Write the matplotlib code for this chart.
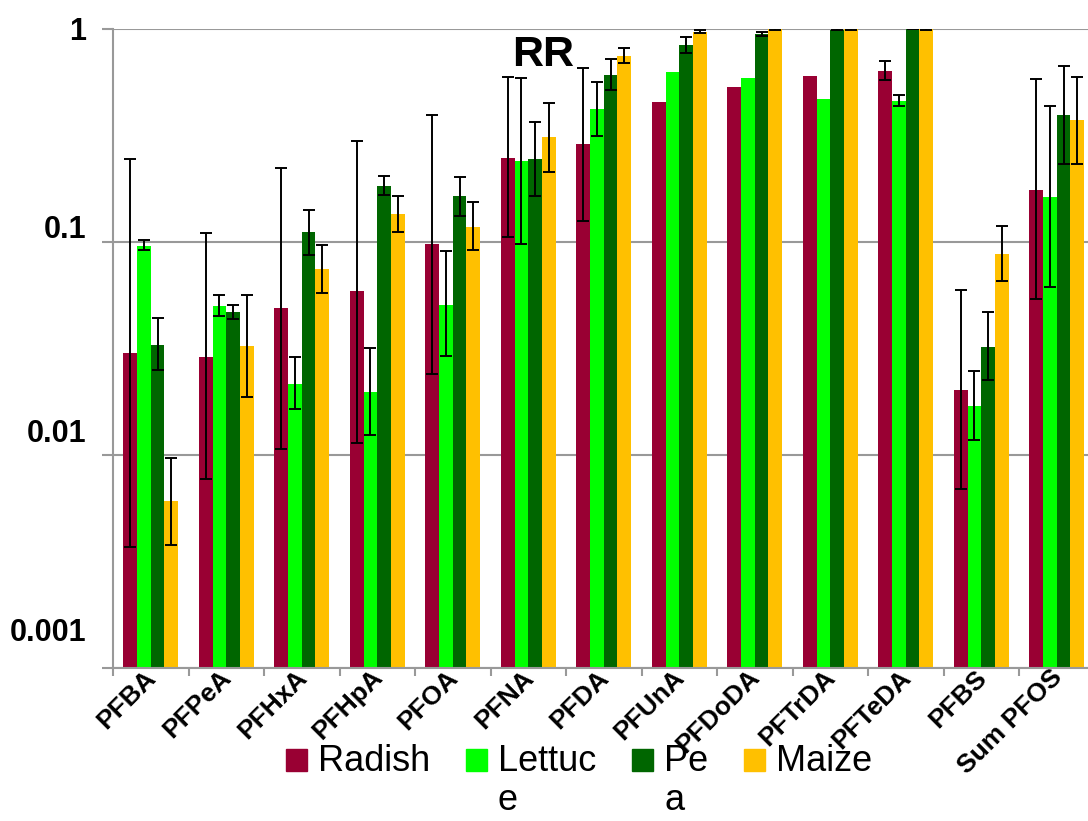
import numpy as np
import matplotlib
matplotlib.use("Agg")
import matplotlib.pyplot as plt
import matplotlib.patches as mpatches
from matplotlib.legend_handler import HandlerPatch
from matplotlib.transforms import ScaledTranslation

plt.rcParams['font.family'] = ['Liberation Sans', 'DejaVu Sans']

nan = np.nan
compounds = ['PFBA', 'PFPeA', 'PFHxA', 'PFHpA', 'PFOA', 'PFNA', 'PFDA', 'PFUnA',
             'PFDoDA', 'PFTrDA', 'PFTeDA', 'PFBS', 'Sum PFOS']

# RR values, with low / high ends of the error bars
radish = [0.030, 0.029, 0.049, 0.059, 0.0975, 0.249, 0.287, 0.453, 0.533, 0.600, 0.634, 0.0203, 0.176]
radish_lo = [0.0037, 0.0077, 0.0107, 0.0114, 0.0239, 0.105, 0.125, nan, nan, nan, 0.576, 0.00695, 0.0542]
radish_hi = [0.244, 0.110, 0.223, 0.298, 0.395, 0.594, 0.655, nan, nan, nan, 0.709, 0.0596, 0.584]

lettuce = [0.096, 0.050, 0.0215, 0.0197, 0.0508, 0.241, 0.420, 0.627, 0.588, 0.468, 0.461, 0.0170, 0.163]
lettuce_lo = [0.092, 0.0449, 0.0164, 0.0124, 0.0292, 0.098, 0.316, nan, nan, nan, 0.435, 0.0117, 0.0616]
lettuce_hi = [0.102, 0.0565, 0.0287, 0.0318, 0.0906, 0.588, 0.563, nan, nan, nan, 0.491, 0.0247, 0.433]

pea = [0.0329, 0.0467, 0.111, 0.184, 0.164, 0.244, 0.607, 0.841, 0.950, 0.990, 1.0, 0.0323, 0.396]
pea_lo = [0.025, 0.0435, 0.0868, 0.167, 0.133, 0.165, 0.516, 0.774, 0.930, 0.985, 0.995, 0.0224, 0.233]
pea_hi = [0.0438, 0.0504, 0.142, 0.205, 0.201, 0.365, 0.720, 0.920, 0.971, 1.01, 1.01, 0.0471, 0.672]

maize = [0.00607, 0.0326, 0.0744, 0.135, 0.118, 0.310, 0.749, 0.971, 1.0, 1.0, 1.0, 0.0883, 0.373]
maize_lo = [0.0038, 0.0187, 0.0575, 0.112, 0.092, 0.213, 0.689, 0.957, 0.99, 0.99, 0.99, 0.0653, 0.233]
maize_hi = [0.0097, 0.0565, 0.0964, 0.164, 0.154, 0.450, 0.817, 0.986, 1.01, 1.01, 1.01, 0.119, 0.598]

series = [
    ('Radish\n', radish, radish_lo, radish_hi, '#990033'),
    ('Lettuc\ne', lettuce, lettuce_lo, lettuce_hi, '#00FF00'),
    ('Pe\na', pea, pea_lo, pea_hi, '#006600'),
    ('Maize\n', maize, maize_lo, maize_hi, '#FFC000'),
]

fig = plt.figure(figsize=(10.88, 8.21), dpi=100)
ax = fig.add_axes([113 / 1088, 1 - 668 / 821, 981.5 / 1088, 639 / 821])

x = np.arange(len(compounds))
width = 0.182
handles = []
for i, (name, vals, lo, hi, col) in enumerate(series):
    vals = np.array(vals)
    xs = x + (i - 1.5) * width
    ax.bar(xs, vals, width, color=col, linewidth=0)
    err = [vals - np.array(lo), np.array(hi) - vals]
    ax.errorbar(xs, vals, yerr=err, fmt='none', ecolor='black',
                elinewidth=1.4, capsize=4.5, capthick=1.4)
    handles.append(mpatches.Patch(color=col, label=name))

ax.set_yscale('log')
ax.set_ylim(0.001, 1)
ax.set_xlim(-0.5, len(compounds) - 0.5)
ax.yaxis.set_minor_locator(matplotlib.ticker.NullLocator())
ax.set_yticks([0.001, 0.01, 0.1, 1])
ax.set_yticklabels(['0.001', '0.01', '0.1', '1'], fontsize=22, fontweight='bold')
ax.tick_params(axis='y', length=8, width=1.5, color='#999999', pad=11)
# the original labels sit higher than their gridlines
for t, dy in zip(ax.get_yticklabels(), [27.4, 18, 10.8, 0]):
    t.set_transform(t.get_transform() + ScaledTranslation(0, dy / 72, fig.dpi_scale_trans))

ax.set_xticks(x)
ax.set_xticklabels(compounds, fontsize=19, fontweight='bold', rotation=45,
                   ha='right', va='top', rotation_mode='anchor')
ax.tick_params(axis='x', which='major', length=0, pad=1)
for t in ax.get_xticklabels():
    t.set_transform(t.get_transform() + ScaledTranslation(-0.07, 0.04, fig.dpi_scale_trans))
ax.set_xticks(np.arange(len(compounds) + 1) - 0.5, minor=True)
ax.tick_params(axis='x', which='minor', length=6, width=1.5, color='#999999')

ax.grid(axis='y', color='#999999', linewidth=1.5)
ax.set_axisbelow(True)
for s in ['top', 'right']:
    ax.spines[s].set_visible(False)
for s in ['left', 'bottom']:
    ax.spines[s].set_color('#999999')
    ax.spines[s].set_linewidth(1.5)

fig.text(543 / 1088, 1 - 55 / 821, 'RR', fontsize=31, fontweight='bold',
         ha='center', va='center')


def top_box(legend, orig_handle, xdescent, ydescent, width, height, fontsize):
    # square next to the first line of a two-line label
    return mpatches.Rectangle((-xdescent, -ydescent + 15.5), width, height)


leg = fig.legend(handles=handles, loc='upper left', bbox_to_anchor=(286 / 1088, 1 - 744 / 821),
                 ncol=4, frameon=False, fontsize=26, handlelength=0.58, handleheight=0.58,
                 handletextpad=0.3, columnspacing=1.0, borderpad=0, borderaxespad=0,
                 handler_map={mpatches.Patch: HandlerPatch(patch_func=top_box)})
for t in leg.get_texts():
    t.set_linespacing(1.15)

fig.savefig('out.png', dpi=100)
